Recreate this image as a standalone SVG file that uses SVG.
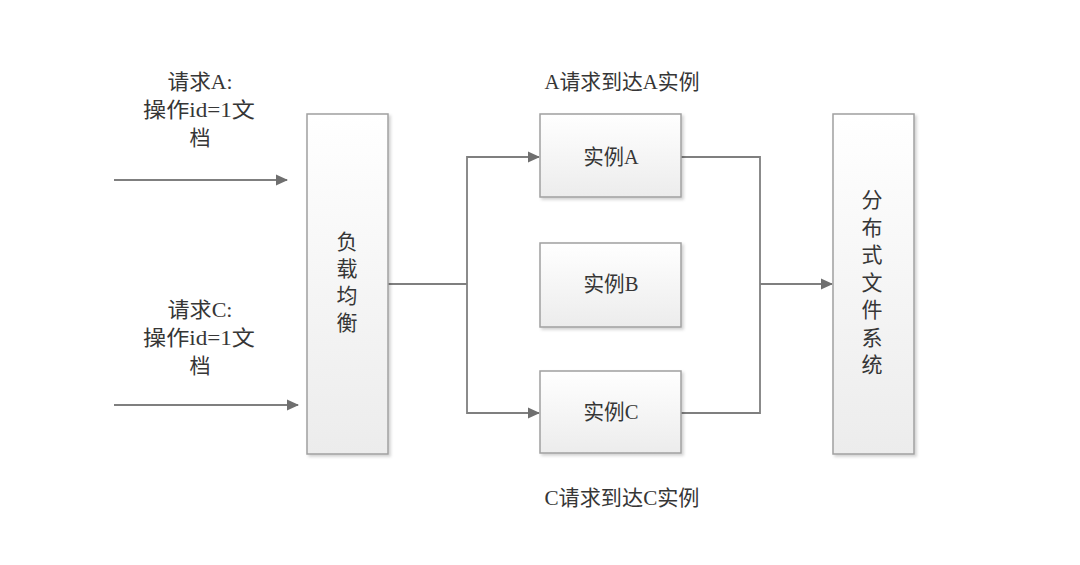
<svg xmlns="http://www.w3.org/2000/svg" width="1080" height="565" viewBox="0 0 1080 565">
<style>
.box{fill:url(#g);stroke:#a0a0a0;stroke-width:1.5}
.t{font-family:"Liberation Serif","Noto Sans CJK SC",serif;font-size:21px;fill:#363636;text-anchor:middle;dominant-baseline:central}
.ln{fill:none;stroke:#7f7f7f;stroke-width:1.8}
</style>
<defs>
<linearGradient id="g" x1="0" y1="0" x2="0" y2="1"><stop offset="0" stop-color="#ffffff"/><stop offset="1" stop-color="#ececec"/></linearGradient>
<filter id="sh" x="-10%" y="-10%" width="130%" height="130%"><feDropShadow dx="2" dy="2" stdDeviation="1.5" flood-color="#000" flood-opacity="0.18"/></filter>
<marker id="ar" markerWidth="12" markerHeight="12" refX="11" refY="6" orient="auto" markerUnits="userSpaceOnUse"><path d="M0,0.5 L12,6 L0,11.5 Z" fill="#6f6f6f"/></marker>
</defs>
<rect width="1080" height="565" fill="#fff"/>
<g id="connectors">
<path class="ln" d="M114,180 H287" marker-end="url(#ar)"/>
<path class="ln" d="M114,405 H298" marker-end="url(#ar)"/>
<path class="ln" d="M388,284 H467"/>
<path class="ln" d="M467,284 V157 H539" marker-end="url(#ar)"/>
<path class="ln" d="M467,284 V413 H539" marker-end="url(#ar)"/>
<path class="ln" d="M681,157 H760 V413 H681"/>
<path class="ln" d="M760,284 H832" marker-end="url(#ar)"/>
</g>
<g id="labelA">
<text class="t" x="200" y="82" textLength="65" lengthAdjust="spacingAndGlyphs">请求A:</text>
<text class="t" x="199" y="110" textLength="112" lengthAdjust="spacingAndGlyphs">操作id=1文</text>
<text class="t" x="200" y="138">档</text>
</g>
<g id="labelC">
<text class="t" x="200" y="310" textLength="65" lengthAdjust="spacingAndGlyphs">请求C:</text>
<text class="t" x="199" y="338" textLength="112" lengthAdjust="spacingAndGlyphs">操作id=1文</text>
<text class="t" x="200" y="366">档</text>
</g>
<g id="lb">
<rect class="box" x="307" y="114" width="81" height="340" filter="url(#sh)"/>
<text class="t" x="347" y="242">负</text>
<text class="t" x="347" y="269">载</text>
<text class="t" x="347" y="296">均</text>
<text class="t" x="347" y="323">衡</text>
</g>
<g id="instA">
<rect class="box" x="540" y="114" width="141" height="83" filter="url(#sh)"/>
<text class="t" x="611" y="157" textLength="55" lengthAdjust="spacingAndGlyphs">实例A</text>
</g>
<g id="instB">
<rect class="box" x="540" y="243" width="141" height="84" filter="url(#sh)"/>
<text class="t" x="611" y="284" textLength="55" lengthAdjust="spacingAndGlyphs">实例B</text>
</g>
<g id="instC">
<rect class="box" x="540" y="371" width="141" height="82" filter="url(#sh)"/>
<text class="t" x="611" y="412" textLength="55" lengthAdjust="spacingAndGlyphs">实例C</text>
</g>
<g id="dfs">
<rect class="box" x="833" y="114" width="81" height="340" filter="url(#sh)"/>
<text class="t" x="872" y="200">分</text>
<text class="t" x="872" y="227.5">布</text>
<text class="t" x="872" y="255">式</text>
<text class="t" x="872" y="282.5">文</text>
<text class="t" x="872" y="310">件</text>
<text class="t" x="872" y="337.5">系</text>
<text class="t" x="872" y="365">统</text>
</g>
<g id="notes">
<text class="t" x="622" y="82" textLength="155" lengthAdjust="spacingAndGlyphs">A请求到达A实例</text>
<text class="t" x="622" y="498" textLength="155" lengthAdjust="spacingAndGlyphs">C请求到达C实例</text>
</g>
</svg>
